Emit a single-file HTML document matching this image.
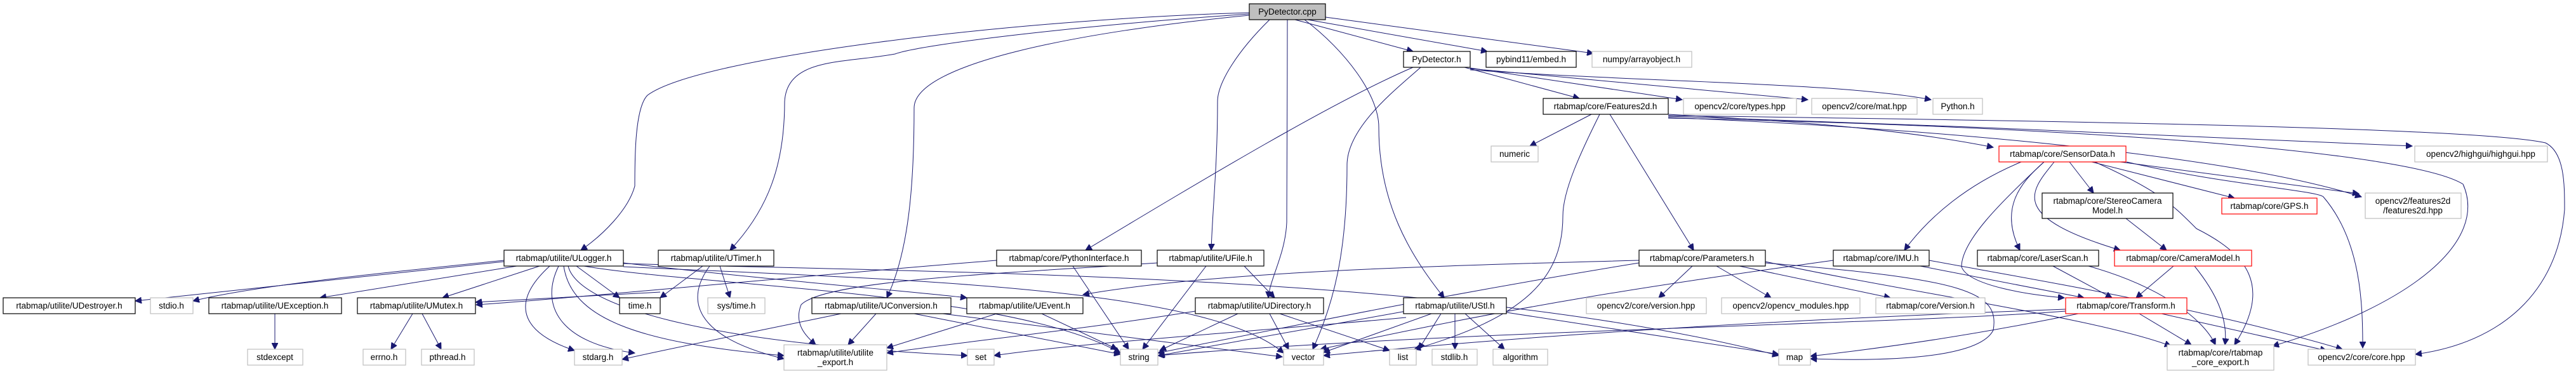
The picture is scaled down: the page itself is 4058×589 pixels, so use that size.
<!DOCTYPE html>
<html><head><meta charset="utf-8"><style>
html,body{margin:0;padding:0;background:#fff;}
svg{display:block;}
text{font-family:"Liberation Sans",sans-serif;font-size:13.5px;fill:#000;text-anchor:middle;}
.b{fill:#fff;stroke:#000;stroke-width:1.2}
.g{fill:#fff;stroke:#bfbfbf;stroke-width:1.2}
.r{fill:#fff;stroke:#ff0000;stroke-width:1.2}
.e{fill:none;stroke:#191970;stroke-width:1}
</style></head><body>
<svg width="4058" height="589" viewBox="0 0 4058 589" xmlns="http://www.w3.org/2000/svg">
<defs><marker id="a" markerUnits="userSpaceOnUse" markerWidth="11" markerHeight="10" refX="10" refY="5" orient="auto"><path d="M0,0 L10,5 L0,10 z" fill="#191970" stroke="#191970"/></marker></defs>
<g class="e" marker-end="url(#a)">
<!-- PyDetector.cpp -->
<path d="M1968,20 C1600,30 1100,90 1020,150 C1000,170 1000,250 1000,293 C990,330 950,370 915,394"/>
<path d="M1968,22 C1700,40 1450,70 1410,85 C1330,100 1240,90 1236,160 C1236,260 1210,330 1150,394"/>
<path d="M1968,24 C1700,50 1440,100 1440,170 C1440,300 1430,400 1397,469"/>
<path d="M2000,31 C1950,80 1918,130 1918,160 C1918,260 1910,330 1908,394"/>
<path d="M2040,31 L2226,81"/>
<path d="M2060,31 L2343,81"/>
<path d="M2088,27 L2510,84"/>
<path d="M2028,31 C2028,150 2027,300 2027,350 C2025,400 2000,440 1998,469"/>
<path d="M2055,31 C2120,80 2172,150 2172,200 C2172,320 2220,400 2275,469"/>
<!-- PyDetector.h -->
<path d="M2226,106 C2100,160 1900,280 1710,394"/>
<path d="M2238,106 C2200,140 2122,200 2122,260 C2122,400 2100,480 2068,550"/>
<path d="M2307,106 L2488,155"/>
<path d="M2316,107 L2650,157"/>
<path d="M2316,108 L2848,157"/>
<path d="M2316,110 C2600,130 2900,130 3042,157"/>
<!-- Features2d.h -->
<path d="M2507,180 L2410,230"/>
<path d="M2536,180 L2668,394"/>
<path d="M2520,180 C2490,240 2462,300 2462,340 C2462,440 2400,500 2228,550"/>
<path d="M2628,180 C2800,190 2980,200 3140,232"/>
<path d="M2628,183 C3000,195 3500,215 3800,230"/>
<path d="M2628,185 C3000,200 3500,240 3720,310"/>
<path d="M2628,182 C3200,190 3900,200 4010,225 C4040,240 4040,290 4040,330 C4030,460 3940,540 3805,558"/>
<path d="M2628,186 C3300,200 3800,240 3880,290 C3920,380 3800,480 3580,545"/>
<!-- SensorData.h -->
<path d="M3184,255 C3100,290 3040,340 3000,394"/>
<path d="M3260,255 L3298,304"/>
<path d="M3295,255 L3520,312"/>
<path d="M3340,255 L3716,305"/>
<path d="M3220,255 C3180,290 3150,330 3182,394"/>
<path d="M3236,255 C3200,300 3160,340 3340,394"/>
<path d="M3220,255 C3150,320 3090,380 3090,420 C3100,450 3200,465 3252,469"/>
<path d="M3300,255 C3400,300 3420,320 3460,360 C3540,400 3580,450 3520,543"/>
<path d="M3350,255 C3500,290 3650,300 3660,310 C3720,380 3722,480 3722,548"/>
<!-- StereoCamera / CameraModel / LaserScan / IMU -->
<path d="M3349,344 L3413,394"/>
<path d="M3424,419 L3365,469"/>
<path d="M3457,419 C3490,460 3510,500 3505,543"/>
<path d="M3234,419 L3327,469"/>
<path d="M3290,419 C3400,450 3470,500 3490,543"/>
<path d="M3039,410 C3200,440 3450,480 3690,550"/>
<path d="M3025,419 L3283,469"/>
<path d="M2888,410 C2600,450 2400,480 2080,550"/>
<!-- Transform.h -->
<path d="M3370,494 L3452,543"/>
<path d="M3405,494 L3665,552"/>
<path d="M3254,487 C2900,500 2500,520 2085,560"/>
<path d="M3274,494 C3100,530 2950,550 2852,561"/>
<path d="M3254,490 C3000,510 2300,520 1824,560"/>
<!-- Parameters.h -->
<path d="M2666,419 L2613,469"/>
<path d="M2704,419 L2790,469"/>
<path d="M2740,419 L2978,469"/>
<path d="M2582,410 C2200,420 1900,430 1706,464"/>
<path d="M2582,414 C2300,460 2100,500 1824,556"/>
<path d="M2781,414 C3100,440 3150,460 3140,520 C3120,560 3000,570 2852,565"/>
<path d="M2781,412 C3000,460 3300,500 3420,545"/>
<!-- UStl -->
<path d="M2270,494 L2235,550"/>
<path d="M2292,494 L2292,550"/>
<path d="M2308,494 L2370,550"/>
<path d="M2255,494 L2085,555"/>
<path d="M2373,492 L2802,558"/>
<path d="M2215,490 L1825,560"/>
<path d="M2215,500 C2000,520 1700,540 1566,560"/>
<!-- UDirectory -->
<path d="M2016,494 L2189,552"/>
<path d="M2000,494 L2030,550"/>
<path d="M1950,494 L1827,552"/>
<path d="M1883,490 C1700,520 1500,540 1397,556"/>
<!-- UFile -->
<path d="M1960,419 L2008,469"/>
<path d="M1900,419 L1800,550"/>
<path d="M1823,414 C1600,430 1300,440 1262,480 C1250,510 1270,530 1285,543"/>
<!-- PythonInterface -->
<path d="M1690,419 L1778,550"/>
<path d="M1570,410 C1200,440 900,470 750,480"/>
<!-- UEvent -->
<path d="M1641,494 L1760,550"/>
<path d="M1570,494 L1397,548"/>
<!-- UConversion -->
<path d="M1380,494 L1336,543"/>
<path d="M1440,494 L1765,558"/>
<path d="M1485,494 L2020,562"/>
<path d="M1325,494 C1200,520 1050,550 980,566"/>
<!-- UTimer -->
<path d="M1107,419 L1040,469"/>
<path d="M1134,419 L1150,469"/>
<path d="M1118,419 C1080,470 1090,530 1235,565"/>
<!-- ULogger -->
<path d="M794,412 L213,474"/>
<path d="M794,410 C600,430 400,450 304,474"/>
<path d="M814,419 L504,469"/>
<path d="M850,419 L697,469"/>
<path d="M908,419 L976,469"/>
<path d="M866,419 C810,470 810,520 905,552"/>
<path d="M880,419 C850,480 880,540 1000,556"/>
<path d="M888,419 C900,500 1000,540 1235,560"/>
<path d="M895,419 C910,480 1100,540 1524,560"/>
<path d="M982,414 C1200,440 1450,460 1523,469"/>
<path d="M920,419 C1100,450 1600,460 1765,556"/>
<path d="M982,420 C1400,440 1900,450 2022,556"/>
<path d="M982,415 C1500,430 2300,430 2802,560"/>
<path d="M1040,460 L749,476"/>
<!-- UMutex / UException -->
<path d="M650,494 L616,550"/>
<path d="M665,494 L695,550"/>
<path d="M433,494 L433,550"/>
</g>
<!-- nodes -->
<rect x="1968" y="6" width="120" height="25" fill="#bfbfbf" stroke="#000" stroke-width="1.2"/><text x="2028" y="23">PyDetector.cpp</text>
<rect class="b" x="2211" y="81" width="105" height="25"/><text x="2263" y="98">PyDetector.h</text>
<rect class="b" x="2341" y="81" width="142" height="25"/><text x="2412" y="98">pybind11/embed.h</text>
<rect class="g" x="2508" y="81" width="157" height="25"/><text x="2586" y="98">numpy/arrayobject.h</text>
<rect class="b" x="2431" y="155" width="197" height="25"/><text x="2529" y="172">rtabmap/core/Features2d.h</text>
<rect class="g" x="2652" y="155" width="178" height="25"/><text x="2741" y="172">opencv2/core/types.hpp</text>
<rect class="g" x="2854" y="155" width="166" height="25"/><text x="2937" y="172">opencv2/core/mat.hpp</text>
<rect class="g" x="3045" y="155" width="78" height="25"/><text x="3084" y="172">Python.h</text>
<rect class="g" x="2349" y="230" width="74" height="25"/><text x="2386" y="247">numeric</text>
<rect class="r" x="3149" y="230" width="200" height="25"/><text x="3249" y="247">rtabmap/core/SensorData.h</text>
<rect class="g" x="3804" y="230" width="209" height="25"/><text x="3908" y="247">opencv2/highgui/highgui.hpp</text>
<rect class="b" x="3217" y="304" width="206" height="40"/><text x="3320" y="321">rtabmap/core/StereoCamera</text><text x="3320" y="336">Model.h</text>
<rect class="r" x="3500" y="312" width="150" height="25"/><text x="3575" y="329">rtabmap/core/GPS.h</text>
<rect class="g" x="3726" y="304" width="151" height="40"/><text x="3801" y="321">opencv2/features2d</text><text x="3801" y="336">/features2d.hpp</text>
<rect class="b" x="794" y="394" width="188" height="25"/><text x="888" y="411">rtabmap/utilite/ULogger.h</text>
<rect class="b" x="1037" y="394" width="182" height="25"/><text x="1128" y="411">rtabmap/utilite/UTimer.h</text>
<rect class="b" x="1570" y="394" width="228" height="25"/><text x="1684" y="411">rtabmap/core/PythonInterface.h</text>
<rect class="b" x="1823" y="394" width="168" height="25"/><text x="1907" y="411">rtabmap/utilite/UFile.h</text>
<rect class="b" x="2582" y="394" width="199" height="25"/><text x="2681" y="411">rtabmap/core/Parameters.h</text>
<rect class="b" x="2888" y="394" width="151" height="25"/><text x="2963" y="411">rtabmap/core/IMU.h</text>
<rect class="b" x="3115" y="394" width="191" height="25"/><text x="3210" y="411">rtabmap/core/LaserScan.h</text>
<rect class="r" x="3331" y="394" width="216" height="25"/><text x="3439" y="411">rtabmap/core/CameraModel.h</text>
<rect class="b" x="5" y="469" width="208" height="25"/><text x="109" y="486">rtabmap/utilite/UDestroyer.h</text>
<rect class="g" x="237" y="469" width="67" height="25"/><text x="270" y="486">stdio.h</text>
<rect class="b" x="329" y="469" width="209" height="25"/><text x="433" y="486">rtabmap/utilite/UException.h</text>
<rect class="b" x="563" y="469" width="186" height="25"/><text x="656" y="486">rtabmap/utilite/UMutex.h</text>
<rect class="b" x="976" y="469" width="64" height="25"/><text x="1008" y="486">time.h</text>
<rect class="g" x="1115" y="469" width="90" height="25"/><text x="1160" y="486">sys/time.h</text>
<rect class="b" x="1279" y="469" width="219" height="25"/><text x="1388" y="486">rtabmap/utilite/UConversion.h</text>
<rect class="b" x="1523" y="469" width="183" height="25"/><text x="1614" y="486">rtabmap/utilite/UEvent.h</text>
<rect class="b" x="1883" y="469" width="202" height="25"/><text x="1984" y="486">rtabmap/utilite/UDirectory.h</text>
<rect class="b" x="2211" y="469" width="162" height="25"/><text x="2292" y="486">rtabmap/utilite/UStl.h</text>
<rect class="g" x="2499" y="469" width="189" height="25"/><text x="2593" y="486">opencv2/core/version.hpp</text>
<rect class="g" x="2712" y="469" width="218" height="25"/><text x="2821" y="486">opencv2/opencv_modules.hpp</text>
<rect class="g" x="2955" y="469" width="172" height="25"/><text x="3041" y="486">rtabmap/core/Version.h</text>
<rect class="r" x="3254" y="469" width="191" height="25"/><text x="3349" y="486">rtabmap/core/Transform.h</text>
<rect class="g" x="390" y="550" width="87" height="25"/><text x="433" y="567">stdexcept</text>
<rect class="g" x="572" y="550" width="67" height="25"/><text x="605" y="567">errno.h</text>
<rect class="g" x="664" y="550" width="83" height="25"/><text x="705" y="567">pthread.h</text>
<rect class="g" x="905" y="550" width="75" height="25"/><text x="942" y="567">stdarg.h</text>
<rect class="g" x="1235" y="543" width="162" height="40"/><text x="1316" y="560">rtabmap/utilite/utilite</text><text x="1316" y="575">_export.h</text>
<rect class="g" x="1524" y="550" width="42" height="25"/><text x="1545" y="567">set</text>
<rect class="g" x="1765" y="550" width="59" height="25"/><text x="1794" y="567">string</text>
<rect class="g" x="2022" y="550" width="63" height="25"/><text x="2053" y="567">vector</text>
<rect class="g" x="2189" y="550" width="42" height="25"/><text x="2210" y="567">list</text>
<rect class="g" x="2256" y="550" width="71" height="25"/><text x="2291" y="567">stdlib.h</text>
<rect class="g" x="2352" y="550" width="86" height="25"/><text x="2395" y="567">algorithm</text>
<rect class="g" x="2802" y="550" width="50" height="25"/><text x="2827" y="567">map</text>
<rect class="g" x="3414" y="543" width="168" height="40"/><text x="3498" y="560">rtabmap/core/rtabmap</text><text x="3498" y="575">_core_export.h</text>
<rect class="g" x="3636" y="550" width="169" height="25"/><text x="3720" y="567">opencv2/core/core.hpp</text>
</svg>
</body></html>
